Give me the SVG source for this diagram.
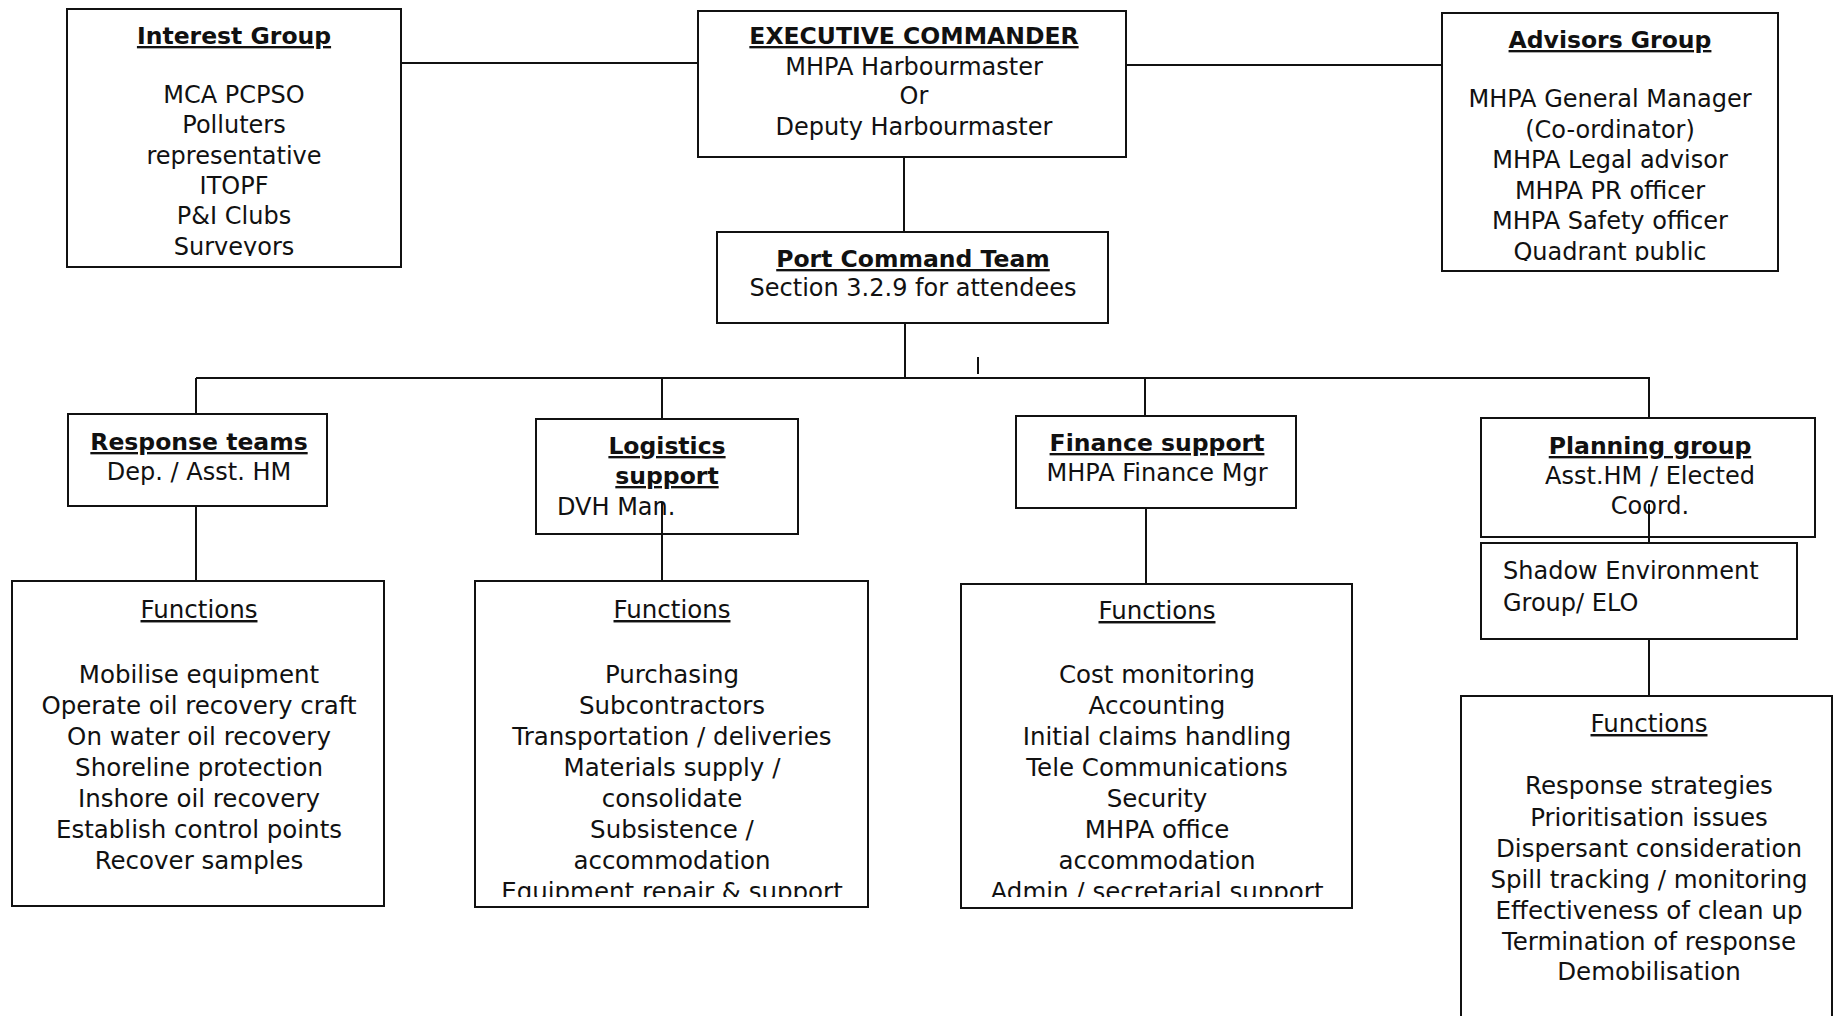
<svg xmlns="http://www.w3.org/2000/svg" width="1834" height="1016" viewBox="0 0 1834 1016">
<style>
text{font-family:"DejaVu Sans","Liberation Sans",sans-serif;font-size:24px;fill:#111;text-anchor:middle}
.t{font-weight:bold;font-size:23.5px;text-decoration:underline}
.u{text-decoration:underline}
.l{text-anchor:start}
.f{font-size:24.5px}
rect{fill:#fff;stroke:#111;stroke-width:2}
#connectors line{stroke:#111;stroke-width:2}
</style>
<defs>
<clipPath id="cInt"><rect x="68" y="10" width="332" height="246"/></clipPath>
<clipPath id="cAdv"><rect x="1443" y="14" width="334" height="247"/></clipPath>
<clipPath id="cF2"><rect x="476" y="582" width="391" height="315"/></clipPath>
<clipPath id="cF3"><rect x="962" y="585" width="388" height="312"/></clipPath>
</defs>
<rect x="0" y="0" width="1834" height="1016" style="fill:#fff;stroke:none"/>
<g id="interest">
<rect x="67" y="9" width="334" height="258"/>
<g clip-path="url(#cInt)">
<text x="234" y="44" class="t">Interest Group</text>
<text x="234" y="103">MCA PCPSO</text>
<text x="234" y="133">Polluters</text>
<text x="234" y="164">representative</text>
<text x="234" y="194">ITOPF</text>
<text x="234" y="224">P&amp;I Clubs</text>
<text x="234" y="255">Surveyors</text>
</g>
</g>
<g id="executive">
<rect x="698" y="11" width="428" height="146"/>
<text x="914" y="44" class="t">EXECUTIVE COMMANDER</text>
<text x="914" y="75">MHPA Harbourmaster</text>
<text x="914" y="104">Or</text>
<text x="914" y="135">Deputy Harbourmaster</text>
</g>
<g id="advisors">
<rect x="1442" y="13" width="336" height="258"/>
<g clip-path="url(#cAdv)">
<text x="1610" y="48" class="t">Advisors Group</text>
<text x="1610" y="107">MHPA General Manager</text>
<text x="1610" y="138">(Co-ordinator)</text>
<text x="1610" y="168">MHPA Legal advisor</text>
<text x="1610" y="199">MHPA PR officer</text>
<text x="1610" y="229">MHPA Safety officer</text>
<text x="1610" y="260">Quadrant public</text>
</g>
</g>
<g id="port">
<rect x="717" y="232" width="391" height="91"/>
<text x="913" y="267" class="t">Port Command Team</text>
<text x="913" y="296">Section 3.2.9 for attendees</text>
</g>
<g id="response">
<rect x="68" y="414" width="259" height="92"/>
<text x="199" y="450" class="t">Response teams</text>
<text x="199" y="480">Dep. / Asst. HM</text>
</g>
<g id="logistics">
<rect x="536" y="419" width="262" height="115"/>
<text x="667" y="454" class="t">Logistics</text>
<text x="667" y="484" class="t">support</text>
<text x="557" y="515" class="l">DVH Man.</text>
</g>
<g id="finance">
<rect x="1016" y="416" width="280" height="92"/>
<text x="1157" y="451" class="t">Finance support</text>
<text x="1157" y="481">MHPA Finance Mgr</text>
</g>
<g id="planning">
<rect x="1481" y="418" width="334" height="119"/>
<text x="1650" y="454" class="t">Planning group</text>
<text x="1650" y="484">Asst.HM / Elected</text>
<text x="1650" y="514">Coord.</text>
</g>
<g id="shadow">
<rect x="1481" y="543" width="316" height="96"/>
<text x="1503" y="579" class="l">Shadow Environment</text>
<text x="1503" y="611" class="l">Group/ ELO</text>
</g>
<g id="functions-response">
<rect x="12" y="581" width="372" height="325"/>
<text x="199" y="618" class="f u">Functions</text>
<text x="199" y="683" class="f">Mobilise equipment</text>
<text x="199" y="714" class="f">Operate oil recovery craft</text>
<text x="199" y="745" class="f">On water oil recovery</text>
<text x="199" y="776" class="f">Shoreline protection</text>
<text x="199" y="807" class="f">Inshore oil recovery</text>
<text x="199" y="838" class="f">Establish control points</text>
<text x="199" y="869" class="f">Recover samples</text>
</g>
<g id="functions-logistics">
<rect x="475" y="581" width="393" height="326"/>
<g clip-path="url(#cF2)">
<text x="672" y="618" class="f u">Functions</text>
<text x="672" y="683" class="f">Purchasing</text>
<text x="672" y="714" class="f">Subcontractors</text>
<text x="672" y="745" class="f">Transportation / deliveries</text>
<text x="672" y="776" class="f">Materials supply /</text>
<text x="672" y="807" class="f">consolidate</text>
<text x="672" y="838" class="f">Subsistence /</text>
<text x="672" y="869" class="f">accommodation</text>
<text x="672" y="900" class="f">Equipment repair &amp; support</text>
</g>
</g>
<g id="functions-finance">
<rect x="961" y="584" width="391" height="324"/>
<g clip-path="url(#cF3)">
<text x="1157" y="619" class="f u">Functions</text>
<text x="1157" y="683" class="f">Cost monitoring</text>
<text x="1157" y="714" class="f">Accounting</text>
<text x="1157" y="745" class="f">Initial claims handling</text>
<text x="1157" y="776" class="f">Tele Communications</text>
<text x="1157" y="807" class="f">Security</text>
<text x="1157" y="838" class="f">MHPA office</text>
<text x="1157" y="869" class="f">accommodation</text>
<text x="1157" y="900" class="f">Admin / secretarial support</text>
</g>
</g>
<g id="functions-planning">
<rect x="1461" y="696" width="371" height="340"/>
<text x="1649" y="732" class="f u">Functions</text>
<text x="1649" y="794" class="f">Response strategies</text>
<text x="1649" y="826" class="f">Prioritisation issues</text>
<text x="1649" y="857" class="f">Dispersant consideration</text>
<text x="1649" y="888" class="f">Spill tracking / monitoring</text>
<text x="1649" y="919" class="f">Effectiveness of clean up</text>
<text x="1649" y="950" class="f">Termination of response</text>
<text x="1649" y="980" class="f">Demobilisation</text>
</g>
<g id="connectors">
<line x1="401" y1="63" x2="698" y2="63"/>
<line x1="1126" y1="65" x2="1442" y2="65"/>
<line x1="904" y1="157" x2="904" y2="232"/>
<line x1="905" y1="323" x2="905" y2="378"/>
<line x1="196" y1="378" x2="1650" y2="378"/>
<line x1="196" y1="378" x2="196" y2="414"/>
<line x1="662" y1="378" x2="662" y2="419"/>
<line x1="1145" y1="378" x2="1145" y2="416"/>
<line x1="1649" y1="378" x2="1649" y2="418"/>
<line x1="196" y1="506" x2="196" y2="581"/>
<line x1="662" y1="502" x2="662" y2="581"/>
<line x1="1146" y1="508" x2="1146" y2="584"/>
<line x1="1649" y1="504" x2="1649" y2="543"/>
<line x1="1649" y1="639" x2="1649" y2="696"/>
<line x1="978" y1="357" x2="978" y2="374"/>
</g>
</svg>
